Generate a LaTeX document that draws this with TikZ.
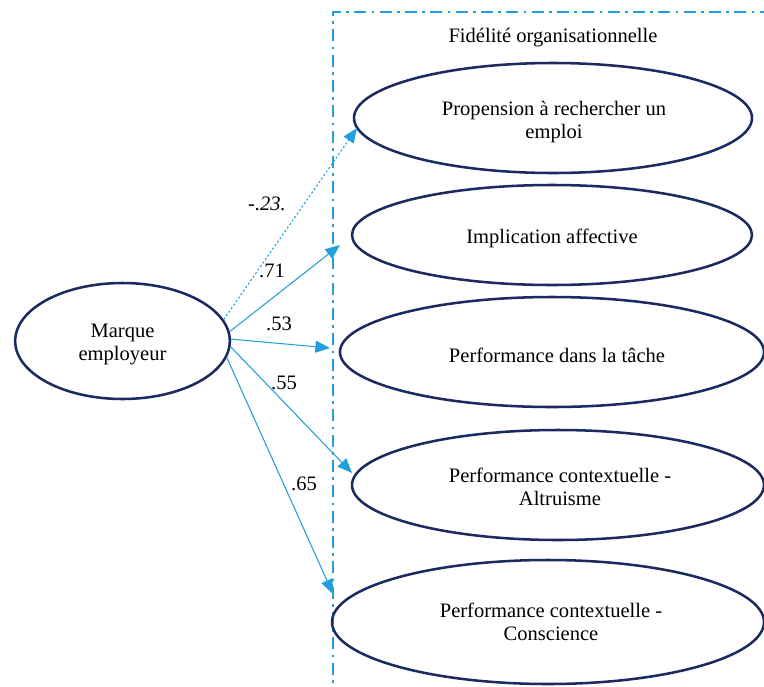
\documentclass[tikz,border=0pt]{standalone}
\usepackage{fontspec}
\setmainfont{Liberation Serif}
\usetikzlibrary{arrows.meta,shapes.geometric}
\definecolor{navy}{HTML}{1C2B5F}
\definecolor{linkblue}{HTML}{23A0DC}
\begin{document}
\begin{tikzpicture}[x=0.75pt,y=-0.75pt,
  every node/.style={font=\fontsize{15.4}{17.25}\selectfont},
  construct/.style={ellipse,draw=navy,line width=1.9pt,inner sep=0pt},
  lbl/.style={align=center,inner sep=0pt},
  path/.style={draw=linkblue,line width=0.8pt,-{Triangle[length=11pt,width=9pt]}},
  weak/.style={path,dash pattern=on 1.6pt off 1.6pt},
  coef/.style={inner sep=1pt}]
\useasboundingbox (0,0) rectangle (764,686);
\clip (0,0) rectangle (764,686);

% group frame
\draw[linkblue,line width=1.9pt,dash pattern=on 9pt off 4pt on 2pt off 4pt]
  (333,700) -- (333,12) -- (790,12);
\node (title) at (553,38) {Fidélité organisationnelle};

% constructs
\node[construct,minimum width=161pt,minimum height=87pt] (m) at (122.5,341) {};
\node[construct,minimum width=298.5pt,minimum height=82.5pt] (p1) at (553,118) {};
\node[construct,minimum width=300pt,minimum height=75pt] (p2) at (552,235) {};
\node[construct,minimum width=318pt,minimum height=82.5pt] (p3) at (552,352) {};
\node[construct,minimum width=309pt,minimum height=82.5pt] (p4) at (558,485) {};
\node[construct,minimum width=324pt,minimum height=93pt] (p5) at (548,622) {};

% construct names
\node[lbl] (ml) at (122.5,344) {Marque\\employeur};
\node[lbl] (p1l) at (554,122) {Propension à rechercher un\\emploi};
\node[lbl] (p2l) at (552,238) {Implication affective};
\node[lbl] (p3l) at (557,355) {Performance dans la tâche};
\node[lbl] (p4l) at (560,487) {Performance contextuelle -\\Altruisme};
\node[lbl] (p5l) at (551,622) {Performance contextuelle -\\Conscience};

% arrow tips
\coordinate (t1) at (357,128);
\coordinate (t2) at (340,245);
\coordinate (t3) at (330,348);
\coordinate (t4) at (352,473);
\coordinate (t5) at (333,594);

% paths
\draw[weak] (m.12) -- (t1);
\draw[path] (m.5) -- (t2);
\draw[path] (m.1.5) -- (t3);
\draw[path] (m.-3.7) -- (t4);
\draw[path] (m.-9) -- (t5);

% coefficients
\node[coef] (c1) at (267,204) {\itshape -.23.};
\node[coef] (c2) at (272,271) {.71};
\node[coef] (c3) at (279,324) {.53};
\node[coef] (c4) at (284,383) {.55};
\node[coef] (c5) at (304,484) {.65};
\end{tikzpicture}
\end{document}
